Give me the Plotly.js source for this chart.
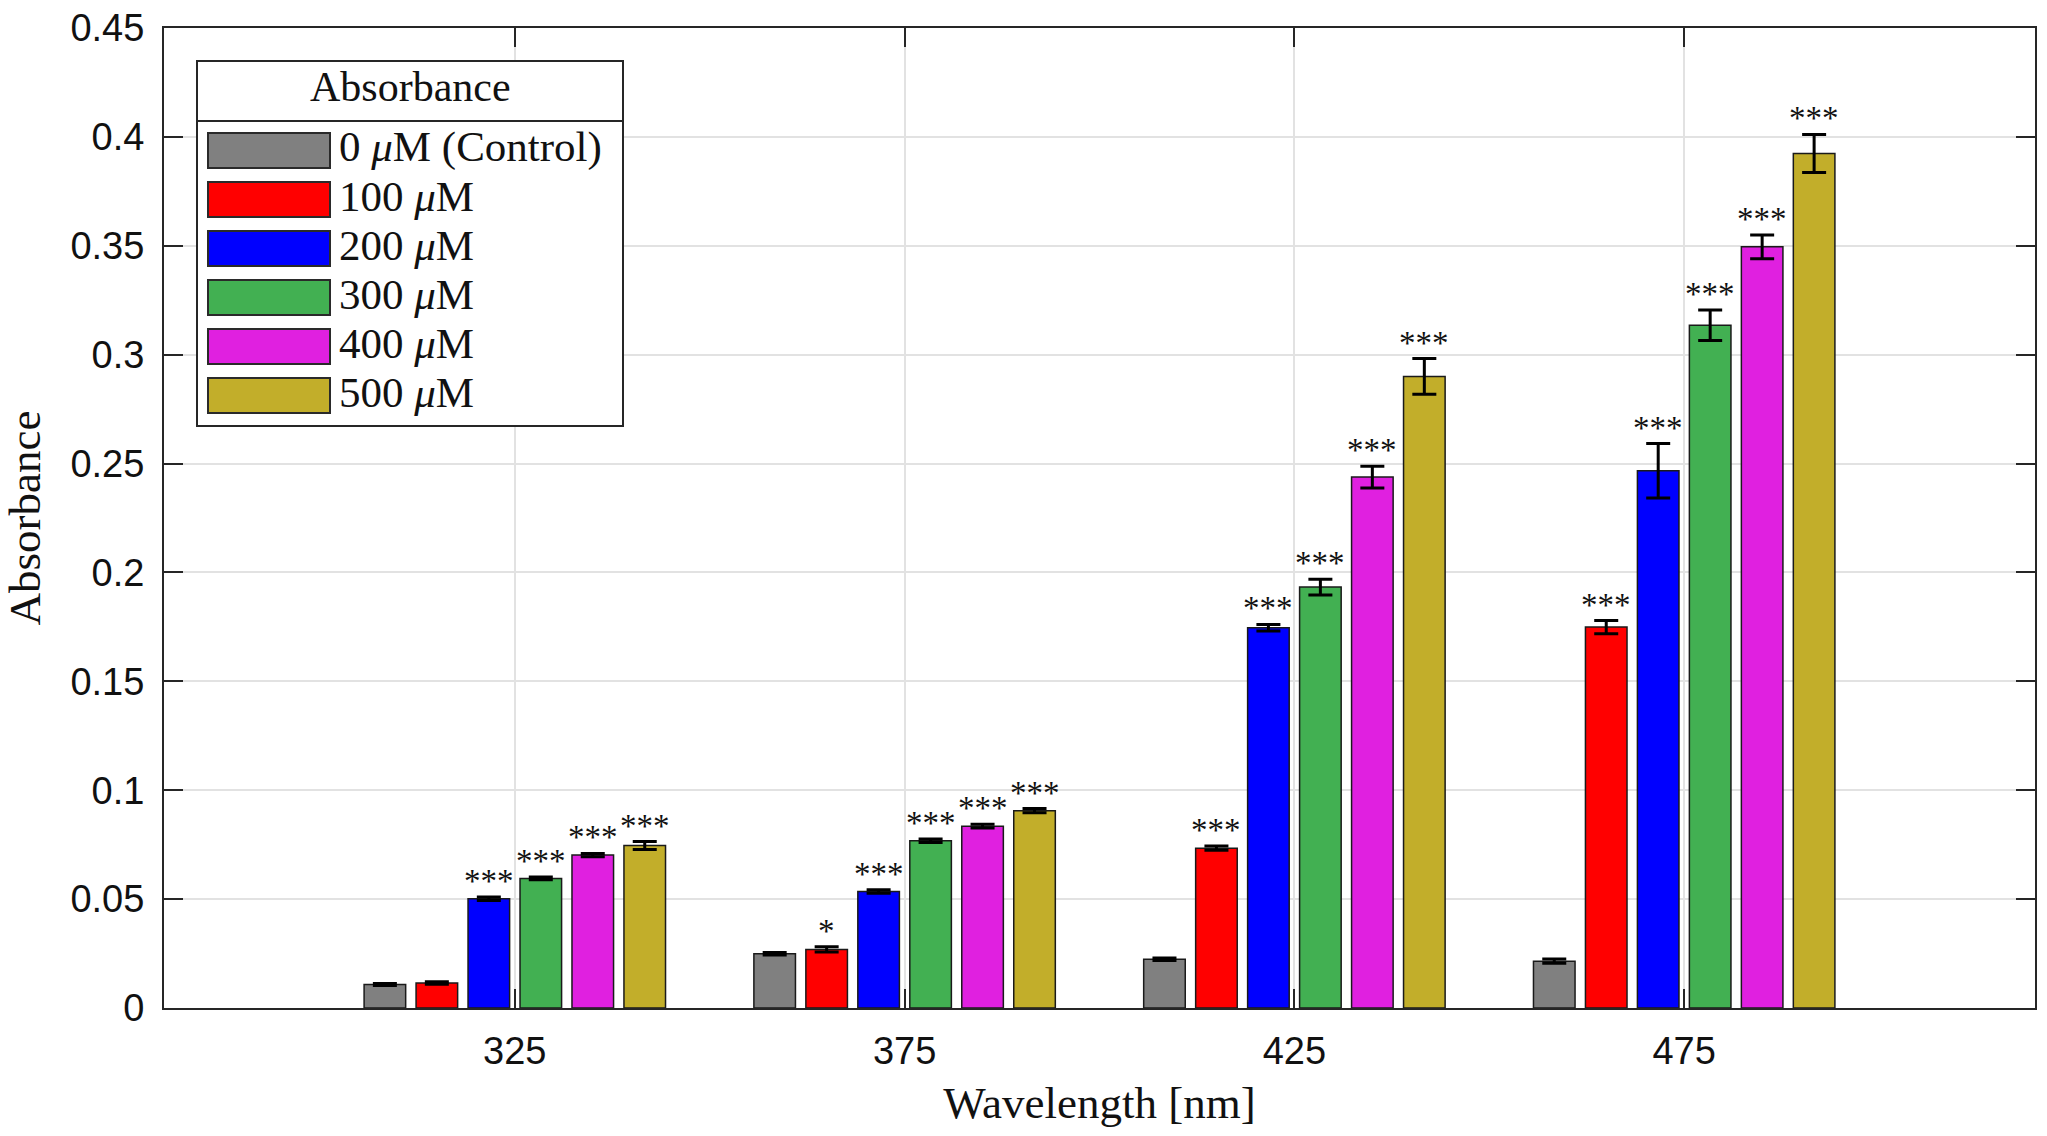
<!DOCTYPE html>
<html>
<head>
<meta charset="utf-8">
<script src="https://cdn.plot.ly/plotly-3.0.1.min.js"></script>
<style>
html,body{margin:0;padding:0;background:#fff;}
#chart{width:2047px;height:1136px;}
</style>
</head>
<body>
<div id="chart"></div>
<script>
// ---- data ----
const wavelengths = [325, 375, 425, 475];
const tickLabels = ['325', '375', '425', '475'];
const seriesNames = ['0 <i>μ</i>M (Control)', '100 <i>μ</i>M', '200 <i>μ</i>M', '300 <i>μ</i>M', '400 <i>μ</i>M', '500 <i>μ</i>M'];
const seriesColors = ['#808080', '#ff0000', '#0000ff', '#42b052', '#e020e0', '#c2ae2a'];

const abs0   = [0.0108, 0.0249, 0.0224, 0.0215];
const abs100 = [0.0115, 0.0269, 0.0734, 0.1749];
const abs200 = [0.0502, 0.0535, 0.1746, 0.2467];
const abs300 = [0.0595, 0.0768, 0.1933, 0.3135];
const abs400 = [0.0702, 0.0835, 0.2438, 0.3495];
const abs500 = [0.0746, 0.0906, 0.2900, 0.3924];

const err0   = [0.0005, 0.0006, 0.0006, 0.0010];
const err100 = [0.0006, 0.0012, 0.0010, 0.0030];
const err200 = [0.0008, 0.0008, 0.0015, 0.0125];
const err300 = [0.0006, 0.0008, 0.0036, 0.0070];
const err400 = [0.0008, 0.0009, 0.0050, 0.0055];
const err500 = [0.0018, 0.0010, 0.0082, 0.0087];

const sig0   = ['', '', '', ''];
const sig100 = ['', '*', '***', '***'];
const sig200 = ['***', '***', '***', '***'];
const sig300 = ['***', '***', '***', '***'];
const sig400 = ['***', '***', '***', '***'];
const sig500 = ['***', '***', '***', '***'];

const legendTitle = 'Absorbance';
const xTitle = 'Wavelength [nm]';
const yTitle = 'Absorbance';

// ---- build ----
const values = [abs0, abs100, abs200, abs300, abs400, abs500];
const errors = [err0, err100, err200, err300, err400, err500];
const sigs = [sig0, sig100, sig200, sig300, sig400, sig500];

const BARGAP = 0.2, BARGROUPGAP = 0.2;
const serif = '"Liberation Serif", "DejaVu Serif", serif';
const sans = '"Liberation Sans", Arial, sans-serif';

const traces = values.map((v, i) => ({
  type: 'bar',
  name: seriesNames[i],
  x: wavelengths,
  y: v,
  marker: {color: seriesColors[i], line: {color: '#1a1a1a', width: 1.5}},
  error_y: {type: 'data', array: errors[i], visible: true, color: '#000', thickness: 3, width: 12},
  showlegend: false,
  hoverinfo: 'x+y'
}));

// significance annotations (position derived from group layout)
const catWidth = wavelengths[1] - wavelengths[0];
const slot = catWidth * (1 - BARGAP) / values.length;
const annotations = [];
values.forEach((v, i) => {
  v.forEach((val, j) => {
    if (!sigs[i][j]) return;
    annotations.push({
      x: wavelengths[j] + (i - (values.length - 1) / 2) * slot,
      y: val + errors[i][j],
      xref: 'x', yref: 'y',
      text: sigs[i][j],
      showarrow: false,
      xanchor: 'center', yanchor: 'bottom',
      yshift: -4,
      font: {family: serif, size: 33, color: '#111'}
    });
  });
});

// custom legend (pixel geometry converted to paper coordinates)
const plotL = 164, plotR = 2035, plotT = 28, plotB = 1008;
const px = p => (p - plotL) / (plotR - plotL);
const py = p => (plotB - p) / (plotB - plotT);
const legBox = {l: 197, t: 61, r: 623, b: 426, sep: 121};
const shapes = [
  {type: 'rect', xref: 'paper', yref: 'paper', x0: px(legBox.l), x1: px(legBox.r), y0: py(legBox.b), y1: py(legBox.t),
   fillcolor: '#ffffff', line: {color: '#262626', width: 2}, layer: 'above'},
  {type: 'line', xref: 'paper', yref: 'paper', x0: px(legBox.l), x1: px(legBox.r), y0: py(legBox.sep), y1: py(legBox.sep),
   line: {color: '#262626', width: 2}, layer: 'above'}
];
annotations.push({
  xref: 'paper', yref: 'paper', x: px((legBox.l + legBox.r) / 2), y: py(87),
  text: legendTitle, showarrow: false, xanchor: 'center', yanchor: 'middle',
  font: {family: serif, size: 42, color: '#111'}
});
seriesNames.forEach((name, i) => {
  const cy = 150.5 + i * 49;
  shapes.push({type: 'rect', xref: 'paper', yref: 'paper', x0: px(208), x1: px(330), y0: py(cy + 17.5), y1: py(cy - 17.5),
    fillcolor: seriesColors[i], line: {color: '#2a2a2a', width: 2}, layer: 'above'});
  annotations.push({xref: 'paper', yref: 'paper', x: px(337), y: py(cy - 3), text: name, showarrow: false,
    xanchor: 'left', yanchor: 'middle', font: {family: serif, size: 43, color: '#111'}});
});

const axisCommon = {
  showline: true, mirror: 'ticks', linecolor: '#262626', linewidth: 2,
  ticks: 'inside', ticklen: 19, tickwidth: 2, tickcolor: '#262626',
  showgrid: true, gridcolor: '#e2e2e2', gridwidth: 2, zeroline: false,
  tickfont: {family: sans, size: 38, color: '#111'}
};

const layout = {
  width: 2047, height: 1136,
  margin: {l: plotL, r: 2047 - plotR, t: plotT, b: 1136 - plotB},
  paper_bgcolor: '#fff', plot_bgcolor: '#fff',
  barmode: 'group', bargap: BARGAP, bargroupgap: BARGROUPGAP,
  showlegend: false,
  xaxis: Object.assign({}, axisCommon, {
    type: 'linear', range: [280, 520], tickmode: 'array', tickvals: wavelengths, ticktext: tickLabels,
    ticklabelstandoff: 8,
    title: {text: xTitle, font: {family: serif, size: 45, color: '#111'}, standoff: 16}
  }),
  yaxis: Object.assign({}, axisCommon, {
    range: [0, 0.45], dtick: 0.05, tick0: 0,
    ticklabelstandoff: 10,
    title: {text: yTitle, font: {family: serif, size: 45, color: '#111'}, standoff: 16}
  }),
  shapes: shapes,
  annotations: annotations
};

Plotly.newPlot('chart', traces, layout, {displayModeBar: false, staticPlot: true});
</script>
</body>
</html>
